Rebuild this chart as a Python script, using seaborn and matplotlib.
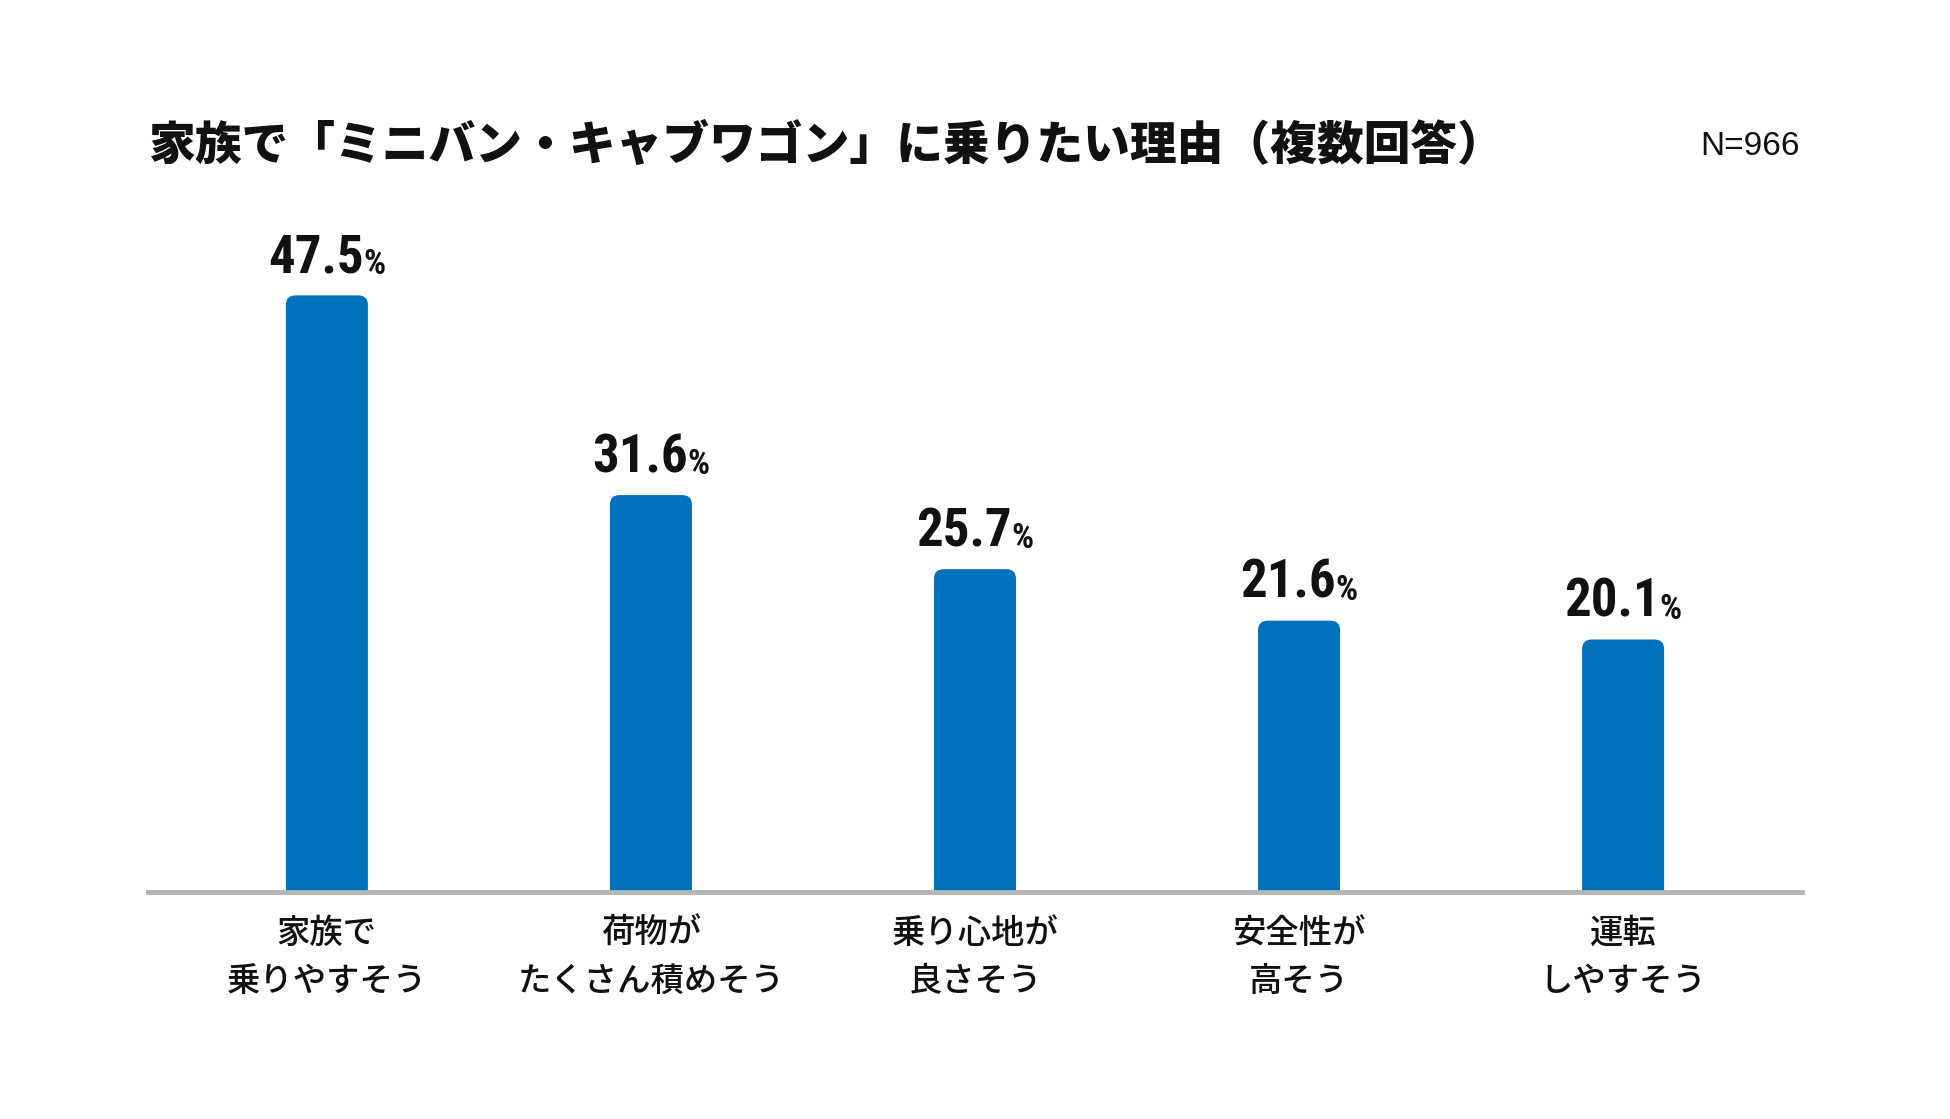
import numpy as np
import pandas as pd
import matplotlib
matplotlib.use('Agg')
import matplotlib.pyplot as plt
import seaborn as sns
from matplotlib.patches import FancyBboxPatch

# Data
categories = ['家族で\n乗りやすそう', '荷物が\nたくさん積めそう', '乗り心地が\n良さそう',
              '安全性が\n高そう', '運転\nしやすそう']
values = [47.5, 31.6, 25.7, 21.6, 20.1]
title = '家族で「ミニバン・キャブワゴン」に乗りたい理由（複数回答）'
sample_note = 'N=966'

sns.set_theme(style='white')
plt.rcParams['font.family'] = ['Noto Sans CJK JP', 'DejaVu Sans']

BLUE = '#0071BC'
GRAY = '#B5B5B5'
INK = '#111111'
NUM_FONT = ['Roboto Condensed', 'Liberation Sans Narrow', 'DejaVu Sans Condensed', 'Roboto']

df = pd.DataFrame({'reason': categories, 'pct': values})

fig = plt.figure(figsize=(19.5, 11.19), dpi=100)
ax = fig.add_axes([0.0759, 0.2029, 0.8482, 0.5612])

sns.barplot(data=df, x='reason', y='pct', color=BLUE, width=0.253,
            saturation=1, ax=ax)

# Swap plain bars for ones with rounded tops (bottom goes below 0 and gets clipped)
for bar in list(ax.patches):
    x0, w, h = bar.get_x(), bar.get_width(), bar.get_height()
    rounded = FancyBboxPatch((x0, -2), w, h + 2,
                             boxstyle='round,pad=0,rounding_size=0.03',
                             mutation_aspect=25, facecolor=BLUE,
                             edgecolor='none')
    bar.set_visible(False)
    ax.add_patch(rounded)

ax.set_xlim(-0.552, 4.552)
ax.set_ylim(0, 50)
ax.set_xlabel('')
ax.set_ylabel('')
ax.set_yticks([])
for side in ['top', 'right', 'left']:
    ax.spines[side].set_visible(False)
ax.spines['bottom'].set_color(GRAY)
ax.spines['bottom'].set_linewidth(3.5)
ax.spines['bottom'].set_zorder(5)
ax.tick_params(axis='x', length=0, pad=17, labelsize=24, labelcolor=INK)
for lbl in ax.get_xticklabels():
    lbl.set_linespacing(1.5)
    lbl.set_fontweight('medium')

# Value labels: big number with a smaller % sign, centred as a group
fig.canvas.draw()
renderer = fig.canvas.get_renderer()
for i, v in enumerate(values):
    tmp = ax.text(0, 0, '%', fontsize=25, fontweight='bold', family=NUM_FONT)
    wp = tmp.get_window_extent(renderer).width
    tmp.remove()
    num = ax.annotate(f'{v:.1f}', xy=(i, v), xytext=(-wp / 2, 12),
                      textcoords='offset pixels', ha='center', va='bottom',
                      fontsize=38, fontweight='bold', family=NUM_FONT, color=INK)
    ax.annotate('%', xy=(1, 0), xycoords=num, xytext=(0, 2),
                textcoords='offset pixels', ha='left', va='bottom',
                fontsize=25, fontweight='bold', family=NUM_FONT, color=INK)

fig.text(0.0759, 0.8695, title, ha='left', va='center', fontsize=33.7,
         fontweight='heavy', color=INK)
fig.text(0.923, 0.8695, sample_note, ha='right', va='center', fontsize=24,
         family=['Liberation Sans', 'DejaVu Sans'], color=INK)

fig.savefig('out.png', dpi=100, facecolor='white')
